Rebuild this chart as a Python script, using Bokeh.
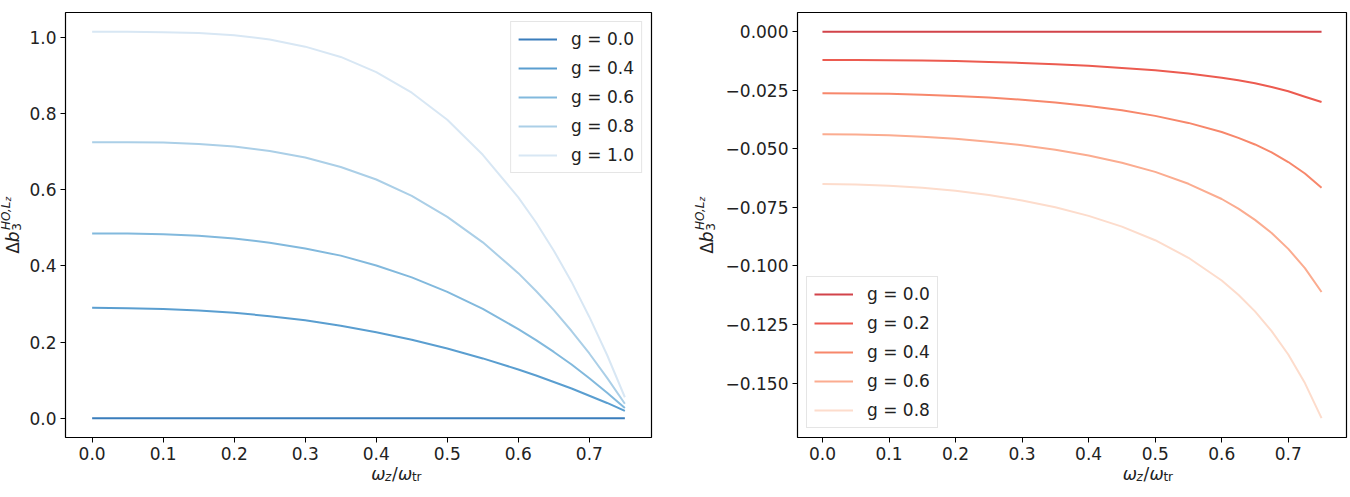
import numpy as np
from bokeh.plotting import figure
from bokeh.layouts import row, column
from bokeh.models import Range1d, FixedTicker, Label
from bokeh.embed import file_html
from bokeh.resources import INLINE

# ---------------- data ----------------
omega_ratio = [0.00, 0.05, 0.10, 0.15, 0.20, 0.25, 0.30, 0.35, 0.40, 0.45,
               0.50, 0.55, 0.60, 0.625, 0.65, 0.675, 0.70, 0.725, 0.75]

left_labels = ["g = 0.0", "g = 0.4", "g = 0.6", "g = 0.8", "g = 1.0"]
left_g00 = [0.0, 0.0, 0.0, 0.0, 0.0, 0.0, 0.0, 0.0, 0.0, 0.0,
            0.0, 0.0, 0.0, 0.0, 0.0, 0.0, 0.0, 0.0, 0.0]
left_g04 = [0.290, 0.289, 0.287, 0.283, 0.277, 0.268, 0.257, 0.243, 0.226, 0.206,
            0.183, 0.157, 0.128, 0.112, 0.095, 0.078, 0.059, 0.040, 0.019]
left_g06 = [0.485, 0.485, 0.483, 0.479, 0.472, 0.461, 0.446, 0.427, 0.401, 0.370,
            0.332, 0.287, 0.234, 0.205, 0.174, 0.141, 0.105, 0.067, 0.027]
left_g08 = [0.725, 0.725, 0.724, 0.720, 0.714, 0.702, 0.685, 0.660, 0.627, 0.584,
            0.529, 0.462, 0.381, 0.334, 0.284, 0.229, 0.170, 0.106, 0.038]
left_g10 = [1.015, 1.015, 1.014, 1.012, 1.006, 0.995, 0.976, 0.949, 0.909, 0.855,
            0.784, 0.692, 0.580, 0.514, 0.440, 0.358, 0.266, 0.166, 0.055]

right_labels = ["g = 0.0", "g = 0.2", "g = 0.4", "g = 0.6", "g = 0.8"]
right_g00 = [0.0, 0.0, 0.0, 0.0, 0.0, 0.0, 0.0, 0.0, 0.0, 0.0,
             0.0, 0.0, 0.0, 0.0, 0.0, 0.0, 0.0, 0.0, 0.0]
right_g02 = [-0.0120, -0.0120, -0.0121, -0.0123, -0.0125, -0.0129, -0.0133, -0.0138,
             -0.0145, -0.0154, -0.0164, -0.0178, -0.0196, -0.0207, -0.0220, -0.0236,
             -0.0254, -0.0277, -0.0300]
right_g04 = [-0.0262, -0.0263, -0.0265, -0.0269, -0.0274, -0.0281, -0.0290, -0.0302,
             -0.0317, -0.0335, -0.0359, -0.0389, -0.0428, -0.0453, -0.0481, -0.0515,
             -0.0556, -0.0605, -0.0666]
right_g06 = [-0.0437, -0.0438, -0.0442, -0.0448, -0.0457, -0.0469, -0.0484, -0.0504,
             -0.0528, -0.0559, -0.0598, -0.0649, -0.0714, -0.0755, -0.0803, -0.0859,
             -0.0927, -0.1009, -0.1111]
right_g08 = [-0.0650, -0.0652, -0.0657, -0.0666, -0.0679, -0.0697, -0.0720, -0.0749,
             -0.0786, -0.0832, -0.0890, -0.0965, -0.1062, -0.1123, -0.1194, -0.1278,
             -0.1378, -0.1500, -0.1650]

x_ticks = [0.0, 0.1, 0.2, 0.3, 0.4, 0.5, 0.6, 0.7]
x_tick_labels = ["0.0", "0.1", "0.2", "0.3", "0.4", "0.5", "0.6", "0.7"]
left_y_ticks = [0.0, 0.2, 0.4, 0.6, 0.8, 1.0]
left_y_tick_labels = ["0.0", "0.2", "0.4", "0.6", "0.8", "1.0"]
right_y_ticks = [0.0, -0.025, -0.05, -0.075, -0.1, -0.125, -0.15]
right_y_tick_labels = ["0.000", "\u22120.025", "\u22120.050", "\u22120.075",
                       "\u22120.100", "\u22120.125", "\u22120.150"]

blue_colors = ["#3a7dbc", "#5a9ed0", "#82b9dd", "#abcfe7", "#d8e7f4"]
red_colors = ["#d2434a", "#ec5b50", "#f7876b", "#fbac90", "#fddccc"]

FONT = "DejaVu Sans"
FS = 17
TXT = "#222222"


def padded(lo, hi):
    d = (hi - lo) * 0.05
    return lo - d, hi + d


def style(p, xt, xtl, yt, ytl):
    p.xgrid.grid_line_color = None
    p.ygrid.grid_line_color = None
    p.outline_line_color = "black"
    p.outline_line_width = 1.2
    p.background_fill_color = "white"
    p.border_fill_color = "white"
    for ax in (p.xaxis[0], p.yaxis[0]):
        ax.axis_line_color = None
        ax.major_tick_line_color = "black"
        ax.major_tick_line_width = 1
        ax.major_tick_out = 5
        ax.major_tick_in = 0
        ax.minor_tick_line_color = None
        ax.major_label_text_font = FONT
        ax.major_label_text_font_size = f"{FS}px"
        ax.major_label_text_color = TXT
        ax.major_label_standoff = 4
    p.xaxis[0].ticker = FixedTicker(ticks=xt)
    p.xaxis[0].major_label_overrides = {t: l for t, l in zip(xt, xtl)}
    p.yaxis[0].ticker = FixedTicker(ticks=yt)
    p.yaxis[0].major_label_overrides = {t: l for t, l in zip(yt, ytl)}


def style_legend(p, loc):
    lg = p.legend[0]
    lg.location = loc
    lg.margin = 9
    lg.padding = 7
    lg.spacing = 9
    lg.label_height = 18
    lg.glyph_height = 18
    lg.glyph_width = 39
    lg.label_standoff = 14
    lg.label_text_font = FONT
    lg.label_text_font_size = f"{FS}px"
    lg.label_text_color = TXT
    lg.border_line_color = "#cccccc"
    lg.border_line_width = 1
    lg.background_fill_color = "white"
    lg.background_fill_alpha = 0.8


def add_math(p, pieces, x0, y0, vertical=False):
    for text, u, v, size, fstyle in pieces:
        if vertical:
            x, y, ang = x0 - v, y0 + u, np.pi / 2
        else:
            x, y, ang = x0 + u, y0 + v, 0.0
        p.add_layout(Label(x=x, y=y, x_units="screen", y_units="screen",
                           text=text, angle=ang, text_font=FONT,
                           text_font_size=f"{size}px", text_font_style=fstyle,
                           text_color=TXT, text_align="left",
                           text_baseline="alphabetic"))


def label_fig(w, h, pieces, x0, y0, vertical=False, margin=None):
    kw = {} if margin is None else {"margin": margin}
    f = figure(width=w, height=h, output_backend="svg", toolbar_location=None,
               x_axis_type=None, y_axis_type=None, min_border=0,
               x_range=Range1d(0, w), y_range=Range1d(0, h), **kw)
    f.outline_line_color = None
    f.background_fill_alpha = 0
    f.border_fill_alpha = 0
    add_math(f, pieces, x0, y0, vertical)
    return f


# x label pieces: omega_z / omega_tr
xlabel_pieces = [
    ("\u03c9", 0.0, 0.0, 17, "italic"),
    ("z", 13.8, -3.5, 12, "italic"),
    ("/", 20.8, 0.0, 17, "normal"),
    ("\u03c9", 26.6, 0.0, 17, "italic"),
    ("tr", 40.6, -3.5, 12, "normal"),
]
xlabel_len = 50.4

# y label pieces: Delta b_3^{HO,L_z}
ylabel_pieces = [
    ("\u0394", 0.0, 0.0, 17, "normal"),
    ("b", 11.6, 0.0, 17, "italic"),
    ("3", 23.0, -3.5, 12, "normal"),
    ("HO,L", 23.8, 7.0, 12, "italic"),
    ("z", 52.6, 4.6, 8.5, "italic"),
]
ylabel_len = 57.5

H = 497
FH = 425
TOP = 12
PLOT_H = 469          # plot canvas height
XL_OVER = 12          # x label strip overlaps the plot's bottom border
XL_H = H - PLOT_H + XL_OVER
LW_FRAME = 588
RW_FRAME = 549
YL1_W = 26
YL2_W = 60
P1_LEFT = 37
P2_LEFT = 76
P1_W = P1_LEFT + LW_FRAME + 10
P2_W = P2_LEFT + RW_FRAME + 4

ylabel_center = H - (TOP + FH / 2)   # measured from the bottom of the strip

# ---------------- left panel ----------------
xr = padded(min(omega_ratio), max(omega_ratio))
left_all = left_g00 + left_g04 + left_g06 + left_g08 + left_g10
ly = padded(min(left_all), max(left_all))

p1 = figure(width=P1_W, height=PLOT_H, output_backend="svg", toolbar_location=None,
            x_range=Range1d(*xr), y_range=Range1d(*ly),
            min_border_left=P1_LEFT, min_border_right=P1_W - P1_LEFT - LW_FRAME,
            min_border_top=TOP, min_border_bottom=PLOT_H - TOP - FH)
for ys, c, lab in zip([left_g00, left_g04, left_g06, left_g08, left_g10],
                      blue_colors, left_labels):
    p1.line(omega_ratio, ys, line_color=c, line_width=2, legend_label=lab)
style(p1, x_ticks, x_tick_labels, left_y_ticks, left_y_tick_labels)
style_legend(p1, "top_right")

xl1 = label_fig(P1_W, XL_H, xlabel_pieces,
                P1_LEFT + LW_FRAME / 2 - xlabel_len / 2, 24,
                margin=(-XL_OVER, 0, 0, 0))
yl1 = label_fig(YL1_W, H, ylabel_pieces, 12,
                ylabel_center - ylabel_len / 2, vertical=True)

# ---------------- right panel ----------------
right_all = right_g00 + right_g02 + right_g04 + right_g06 + right_g08
ry = padded(min(right_all), max(right_all))

p2 = figure(width=P2_W, height=PLOT_H, output_backend="svg", toolbar_location=None,
            x_range=Range1d(*xr), y_range=Range1d(*ry),
            min_border_left=P2_LEFT, min_border_right=P2_W - P2_LEFT - RW_FRAME,
            min_border_top=TOP, min_border_bottom=PLOT_H - TOP - FH)
for ys, c, lab in zip([right_g00, right_g02, right_g04, right_g06, right_g08],
                      red_colors, right_labels):
    p2.line(omega_ratio, ys, line_color=c, line_width=2, legend_label=lab)
style(p2, x_ticks, x_tick_labels, right_y_ticks, right_y_tick_labels)
style_legend(p2, "bottom_left")

xl2 = label_fig(P2_W, XL_H, xlabel_pieces,
                P2_LEFT + RW_FRAME / 2 - xlabel_len / 2, 24,
                margin=(-XL_OVER, 0, 0, 0))
yl2 = label_fig(YL2_W, H, ylabel_pieces, 45,
                ylabel_center - ylabel_len / 2, vertical=True)

layout = row(yl1, column(p1, xl1), yl2, column(p2, xl2))
open("out.html", "w").write(file_html(layout, INLINE))
